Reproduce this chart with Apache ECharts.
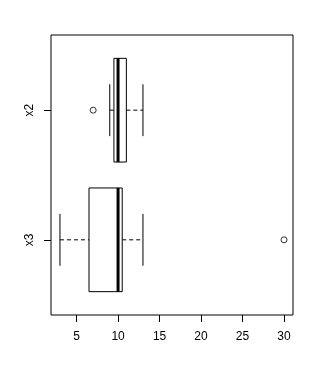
<!DOCTYPE html>
<html>
<head>
<meta charset="utf-8">
<script src="https://cdn.jsdelivr.net/npm/echarts@6/dist/echarts.min.js"></script>
<style>
  html, body { margin: 0; padding: 0; background: #fff; }
  #chart { width: 320px; height: 371px; }
</style>
</head>
<body>
<div id="chart"></div>
<script>
// categories, bottom to top (y position 1, 2)
var categories = ['x3', 'x2'];

// five-number summaries
var lowWhisker = [3, 9];
var q1 = [6.5, 9.5];
var median = [10, 10];
var q3 = [10.5, 11];
var highWhisker = [13, 13];

// outliers: value and category index
var outlierValues = [30, 7];
var outlierCats = [0, 1];

var xTicks = [5, 10, 15, 20, 25, 30];

var chart = echarts.init(document.getElementById('chart'));

var boxData = categories.map(function (c, i) {
  return [i + 1, lowWhisker[i], q1[i], median[i], q3[i], highWhisker[i]];
});
var outlierData = outlierValues.map(function (v, i) {
  return [v, outlierCats[i] + 1];
});

function renderBox(params, api) {
  var y = api.value(0);
  var half = api.size([0, 0.8])[1] / 2;
  var capHalf = api.size([0, 0.4])[1] / 2;
  var pLo = api.coord([api.value(1), y]);
  var pQ1 = api.coord([api.value(2), y]);
  var pMed = api.coord([api.value(3), y]);
  var pQ3 = api.coord([api.value(4), y]);
  var pHi = api.coord([api.value(5), y]);
  var cy = pMed[1];
  var solid = { stroke: '#000', lineWidth: 1 };
  var dashed = { stroke: '#000', lineWidth: 1, lineDash: [4, 3] };

  return {
    type: 'group',
    children: [
      { type: 'line', shape: { x1: pLo[0], y1: cy, x2: pQ1[0], y2: cy }, style: dashed },
      { type: 'line', shape: { x1: pQ3[0], y1: cy, x2: pHi[0], y2: cy }, style: dashed },
      { type: 'line', shape: { x1: pLo[0], y1: cy - capHalf, x2: pLo[0], y2: cy + capHalf }, style: solid },
      { type: 'line', shape: { x1: pHi[0], y1: cy - capHalf, x2: pHi[0], y2: cy + capHalf }, style: solid },
      {
        type: 'rect',
        shape: { x: pQ1[0], y: cy - half, width: pQ3[0] - pQ1[0], height: half * 2 },
        style: { fill: '#fff', stroke: '#000', lineWidth: 1 }
      },
      { type: 'line', shape: { x1: pMed[0], y1: cy - half, x2: pMed[0], y2: cy + half }, style: { stroke: '#000', lineWidth: 3 } }
    ]
  };
}

var option = {
  animation: false,
  backgroundColor: '#fff',
  grid: {
    left: 51,
    right: 27,
    top: 35,
    bottom: 56,
    show: true,
    borderColor: '#000',
    borderWidth: 1,
    backgroundColor: 'transparent'
  },
  xAxis: {
    type: 'value',
    min: 1.92,
    max: 31.08,
    axisLine: { show: false },
    splitLine: { show: false },
    axisTick: { show: true, length: 7, customValues: xTicks, lineStyle: { color: '#000' } },
    axisLabel: {
      customValues: xTicks,
      margin: 16,
      color: '#000',
      fontSize: 12,
      fontFamily: 'Liberation Sans'
    }
  },
  yAxis: {
    type: 'value',
    min: 0.42,
    max: 2.58,
    axisLine: { show: false },
    splitLine: { show: false },
    axisTick: { show: true, length: 7, customValues: [1, 2], lineStyle: { color: '#000' } },
    axisLabel: {
      customValues: [1, 2],
      rotate: 90,
      margin: 15,
      color: '#000',
      fontSize: 12,
      fontFamily: 'Liberation Sans',
      formatter: function (v) {
        return categories[Math.round(v) - 1];
      }
    }
  },
  series: [
    {
      type: 'custom',
      renderItem: renderBox,
      encode: { x: [1, 2, 3, 4, 5], y: 0 },
      data: boxData
    },
    {
      type: 'scatter',
      symbol: 'circle',
      symbolSize: 6,
      itemStyle: { color: 'transparent', borderColor: '#000', borderWidth: 1 },
      data: outlierData
    }
  ]
};

chart.setOption(option);
</script>
</body>
</html>
